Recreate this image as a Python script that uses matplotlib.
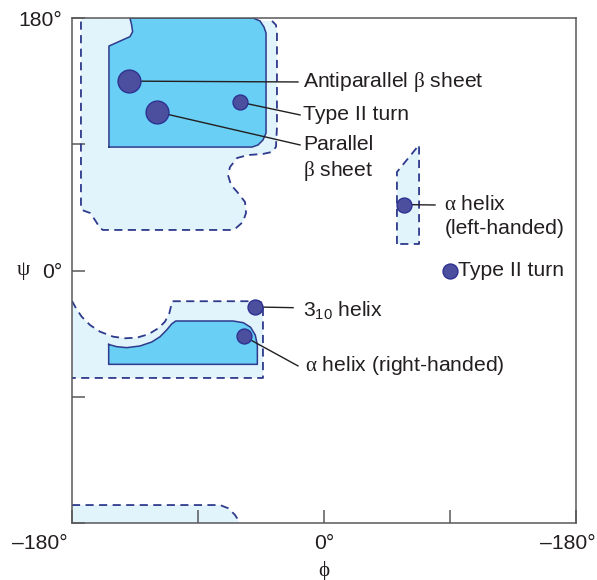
import matplotlib
matplotlib.use("Agg")
import matplotlib.pyplot as plt
from matplotlib.patches import Polygon

plt.rcParams['font.family'] = ['Liberation Sans', 'DejaVu Sans']
plt.rcParams['mathtext.fontset'] = 'custom'
plt.rcParams['mathtext.rm'] = 'Liberation Sans'
plt.rcParams['mathtext.it'] = 'Liberation Serif'
plt.rcParams['mathtext.bf'] = 'Liberation Sans:bold'

# ---------------- data (phi, psi in degrees) ----------------
point_names = ["Antiparallel $\\beta$ sheet", "Type II turn", "Parallel",
               "$\\alpha$ helix", "Type II turn", "$3_{10}$ helix",
               "$\\alpha$ helix (right-handed)"]
point_phi = [-139, -60, -119, 57, 90, -49, -57]
point_psi = [135, 120, 113, 47, 0, -26, -47]
point_large = [True, False, True, False, False, False, False]

# label anchor positions (phi, psi) and leader-line ends
label_phi = [-15, -15, -15, 86, 95.5, -15, -13.5]
label_psi = [134.4, 111, 89.5, 46.7, 0, -28.0, -67.4]
line_end_phi = [-18.6, -17.1, -17.1, 79.3, None, -22.1, -18.6]
line_end_psi = [134.4, 110.9, 89.5, 46.7, None, -26.5, -68]
second_line_text = [None, None, "$\\beta$ sheet", "(left-handed)", None, None, None]
second_line_psi = [None, None, 70.9, 29.6, None, None, None]

# Allowed (light) region, upper left
light_top_phi = [-173.6, -37.1, -34.3, -33.6, -33.6, -34.3, -37.1, -43.6, -54.3,
                 -62.1, -67.1, -68.6, -66.4, -61.4, -56.4, -55.7, -57.9, -63.6,
                 -67.1, -157.9, -160.0, -163.6, -167.1, -172.9, -173.6]
light_top_psi = [180, 177.9, 175.0, 170.0, 102.3, 88.1, 84.5, 83.1, 82.3,
                 80.2, 73.8, 68.1, 61.0, 55.3, 48.8, 41.0, 34.6, 29.6,
                 28.9, 28.9, 30.3, 36.0, 41.0, 43.1, 44.6]
# Fully allowed (dark) region, upper left
dark_top_phi = [-153.6, -153.6, -138.6, -136.7, -137.4, -138.6, -50.7, -45.7,
                -42.9, -41.4, -41.4, -43.6, -47.1, -51.4, -153.6]
dark_top_psi = [88.0, 160.0, 166.7, 170.2, 175.0, 180, 180, 177.9,
                173.6, 169.3, 98.0, 93.0, 89.5, 88.0, 88.0]
# Allowed (light) region, alpha-helix area
light_mid_phi = [-180, -177.1, -173.1, -167.1, -160.0, -150.5, -142.1, -133.8,
                 -125.5, -118.4, -113.6, -110.5, -108.4, -47.1, -44.6, -43.6,
                 -43.6, -180]
light_mid_psi = [-21.7, -27.0, -32.9, -38.9, -43.6, -47.2, -48.3, -47.9,
                 -45.5, -41.2, -36.5, -30.5, -21.9, -21.9, -22.8, -25.3,
                 -76.6, -76.6]
# Fully allowed (dark) region, alpha-helix area
dark_mid_phi = [-153.8, -148.1, -140.9, -131.4, -123.1, -117.1, -112.4, -108.8,
                -105.9, -65.0, -57.6, -52.4, -49.1, -47.6, -47.6, -153.8, -153.8]
dark_mid_psi = [-52.7, -54.3, -55.0, -53.8, -51.0, -47.2, -42.4, -38.1,
                -36.0, -36.0, -37.2, -40.5, -46.0, -53.1, -66.9, -66.9, -52.7]
# Left-handed helix region
light_lh_phi = [52.1, 52.1, 67.9, 67.9]
light_lh_psi = [18.9, 70.2, 89.5, 18.9]
# Bottom region
light_bot_phi = [-180, -180, -74.3, -68.4, -63.6, -60.0]
light_bot_psi = [-180, -167.2, -167.2, -169.5, -174.2, -180]

x_tick_vals = [-180, -90, 0, 90, 180]
x_tick_labels = ["", "", "0°", "", ""]
y_tick_vals = [180, 90, 0, -90, -180]
y_tick_labels = ["180°", "", "0°", "", ""]

# ---------------- styling ----------------
LIGHT = "#E1F3FB"
DARK = "#69CFF4"
EDGE = "#2E3A8C"
DOT = "#4B4F9E"
DOTEDGE = "#2E3192"
SPINE = "#58595B"
TXT = "#231F20"
FS = 15.2

fig = plt.figure(figsize=(5.97, 5.80), dpi=100)
ax = fig.add_axes([72/597, 1-523/580, 504/597, 505/580])
ax.set_xlim(-180, 180)
ax.set_ylim(-180, 180)

def poly(phi, psi, face, z):
    ax.add_patch(Polygon(list(zip(phi, psi)), closed=True, facecolor=face,
                         edgecolor='none', zorder=z))

dash = dict(color=EDGE, lw=1.3, ls=(0, (4.5, 3.0)), zorder=3,
            dash_joinstyle='round')

poly(light_top_phi, light_top_psi, LIGHT, 1)
poly(light_mid_phi, light_mid_psi, LIGHT, 1)
poly(light_lh_phi, light_lh_psi, LIGHT, 1)
poly(light_bot_phi, light_bot_psi, LIGHT, 1)
poly(dark_top_phi, dark_top_psi, DARK, 2)
poly(dark_mid_phi, dark_mid_psi, DARK, 2)

# dashed outlines (edges lying on the frame are left to the spines)
ax.plot(light_top_phi[1:] + [light_top_phi[0]], light_top_psi[1:] + [light_top_psi[0]], **dash)
ax.plot(light_mid_phi, light_mid_psi, **dash)
ax.plot(light_lh_phi + [light_lh_phi[0]], light_lh_psi + [light_lh_psi[0]], **dash)
ax.plot(light_bot_phi[1:], light_bot_psi[1:], **dash)
# solid outlines
ax.plot(dark_top_phi, dark_top_psi, color=EDGE, lw=1.1, zorder=3, solid_joinstyle='round')
ax.plot(dark_mid_phi, dark_mid_psi, color=EDGE, lw=1.1, zorder=3, solid_joinstyle='round')

# leader lines, points and labels
for i in range(len(point_phi)):
    if line_end_phi[i] is not None:
        ax.plot([point_phi[i], line_end_phi[i]], [point_psi[i], line_end_psi[i]],
                color=TXT, lw=1.0, zorder=4)
    s = 270 if point_large[i] else 115
    ax.scatter([point_phi[i]], [point_psi[i]], s=s, facecolor=DOT,
               edgecolor=DOTEDGE, linewidths=1.0, zorder=5)
    ax.text(label_phi[i], label_psi[i], point_names[i], fontsize=FS,
            ha='left', va='center', color=TXT, zorder=6)
    if second_line_text[i] is not None:
        ax.text(label_phi[i], second_line_psi[i], second_line_text[i], fontsize=FS,
                ha='left', va='center', color=TXT, zorder=6)

# axes
ax.set_xticks(x_tick_vals)
ax.set_xticklabels(x_tick_labels, fontsize=FS)
ax.set_yticks(y_tick_vals)
ax.set_yticklabels(y_tick_labels, fontsize=FS)
ax.tick_params(axis='both', direction='in', length=9.5, width=1.1, color=SPINE,
               labelcolor=TXT)
ax.tick_params(axis='x', pad=8)
ax.tick_params(axis='y', pad=7)
for sp in ax.spines.values():
    sp.set_color(SPINE)
    sp.set_linewidth(1.1)
    sp.set_zorder(7)

ax.annotate("–180°", xy=(-180, -180), xytext=(-4, -11), textcoords='offset pixels',
            ha='right', va='top', fontsize=FS, color=TXT, annotation_clip=False)
ax.annotate("–180°", xy=(180, -180), xytext=(-8, -11), textcoords='offset pixels',
            ha='center', va='top', fontsize=FS, color=TXT, annotation_clip=False)
ax.annotate("ψ", xy=(-180, 0), xytext=(-49, 0), textcoords='offset pixels',
            ha='center', va='center', fontsize=FS, color=TXT,
            family=['Liberation Serif', 'DejaVu Serif'], annotation_clip=False)
ax.set_xlabel("ϕ", fontsize=FS, family=['Liberation Serif', 'DejaVu Serif'],
              color=TXT, labelpad=6)

fig.savefig("out.png", dpi=100)
